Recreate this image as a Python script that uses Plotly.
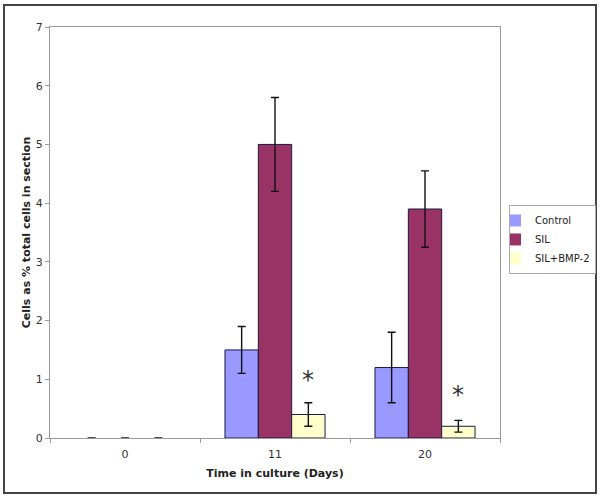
import plotly.graph_objects as go

categories = ["0", "11", "20"]
control = [0, 1.5, 1.2]
control_err = [0, 0.4, 0.6]
sil = [0, 5.0, 3.9]
sil_err = [0, 0.8, 0.65]
silbmp = [0, 0.4, 0.2]
silbmp_err = [0, 0.2, 0.1]
star_cats = ["11", "20"]
star_y = [0.98, 0.73]

FONT = "DejaVu Sans"
fig = go.Figure()
series = [
    ("Control", control, control_err, "#9999FF"),
    ("SIL", sil, sil_err, "#993366"),
    ("SIL+BMP-2", silbmp, silbmp_err, "#FFFFCC"),
]
for name, vals, errs, col in series:
    fig.add_trace(go.Bar(
        x=categories, y=vals, name=name,
        marker=dict(color=col, line=dict(color="#1a1a40", width=[0 if v == 0 else 1 for v in vals])),
        error_y=dict(type="data", array=errs, visible=True, color="#111111", thickness=1.4, width=4),
    ))

bar_w = (1 - 0.333) / 3
for c, yv in zip(star_cats, star_y):
    fig.add_annotation(x=categories.index(c) + bar_w, y=yv, text="*", showarrow=False,
                       font=dict(family=FONT, size=24, color="#333333"))

fig.update_layout(
    template="none",
    width=600, height=498,
    margin=dict(l=50, r=100, t=27, b=60, autoexpand=False),
    paper_bgcolor="white", plot_bgcolor="white",
    barmode="group", bargap=0.333, bargroupgap=0,
    font=dict(family=FONT, size=11, color="#222222"),
    showlegend=True,
    legend=dict(x=1.02, y=0.567, xanchor="left", yanchor="top",
                bordercolor="#aaaaaa", borderwidth=1, bgcolor="white",
                font=dict(family=FONT, size=10, color="#222222"),
                tracegroupgap=0, itemwidth=30, indentation=-15),
    xaxis=dict(
        type="category", range=[-0.5, 2.5], automargin=False,
        title=dict(text="<b>Time in culture (Days)</b>", font=dict(family=FONT, size=11), standoff=9),
        showline=True, linecolor="#999999", linewidth=1, mirror=True,
        ticks="outside", tickson="boundaries", ticklen=4, tickcolor="#999999",
        ticklabelstandoff=6,
        tickfont=dict(family=FONT, size=11, color="#333333"),
        showgrid=False, zeroline=False,
    ),
    yaxis=dict(
        automargin=False,
        title=dict(text="<b>Cells as % total cells in section</b>", font=dict(family=FONT, size=11), standoff=2),
        range=[0, 7], dtick=1, showline=True, linecolor="#999999", linewidth=1, mirror=True,
        ticks="outside", ticklen=4, tickcolor="#999999",
        tickfont=dict(family=FONT, size=11, color="#333333"),
        showgrid=False, zeroline=False,
    ),
)

fig.add_shape(type="rect", xref="paper", yref="paper",
              x0=-0.1022, x1=1.2133, y0=-0.1338, y1=1.0535,
              line=dict(color="#444444", width=2), fillcolor="rgba(0,0,0,0)", layer="above")

fig.write_html("out.html", config={"displayModeBar": False},
               post_script="document.body.style.margin='0';document.body.style.overflow='hidden';")
